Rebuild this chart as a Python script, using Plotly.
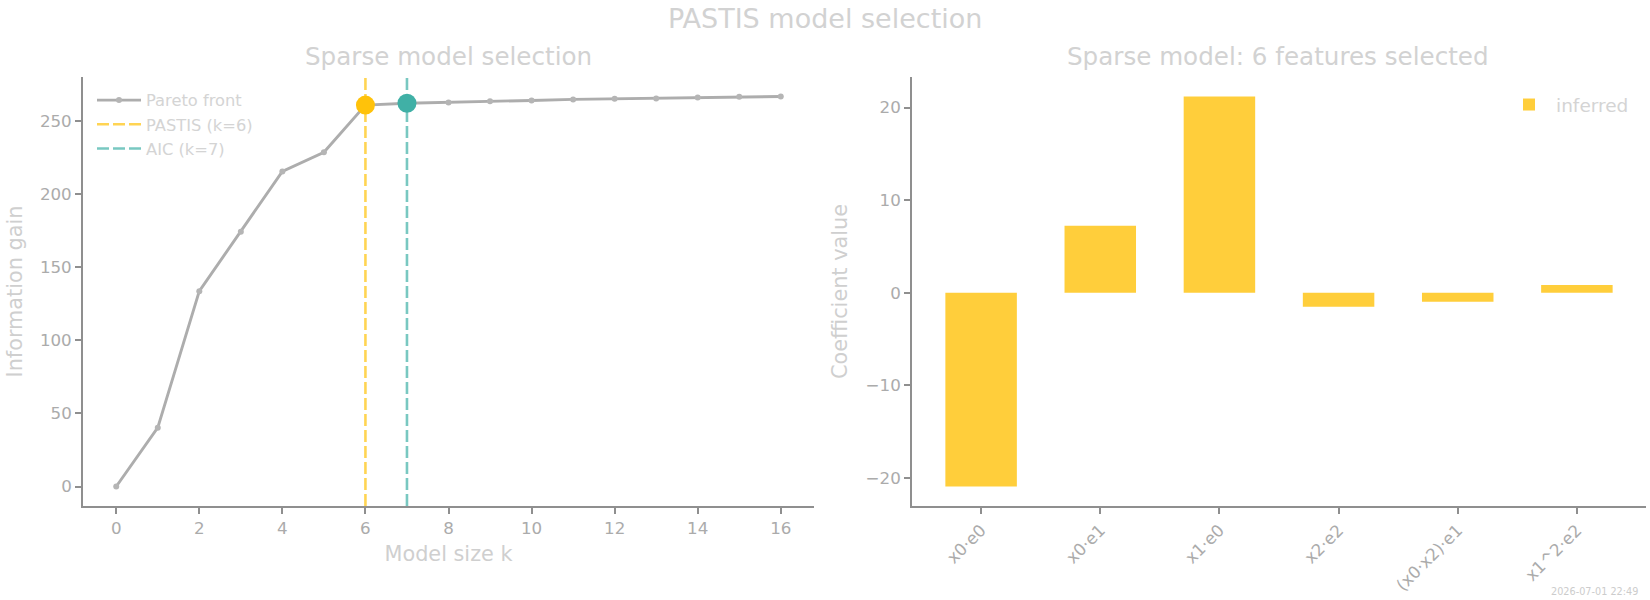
import plotly.graph_objects as go

# ---------------- data ----------------
model_size = list(range(17))
info_gain = [0.0, 40.3, 133.8, 174.4, 215.8, 228.9, 261.2, 262.5, 263.0,
             263.9, 264.4, 265.1, 265.5, 265.8, 266.4, 267.0, 267.1]
k_pastis = 6
k_aic = 7

features = ["x0·e0", "x0·e1", "x1·e0", "x2·e2", "(x0·x2)·e1", "x1^2·e2"]
coefs = [-20.93, 7.23, 21.2, -1.5, -0.97, 0.83]

# ---------------- style ----------------
W, H = 1650, 600
FONT = "DejaVu Sans"
TICK_C = "#ababab"
LABEL_C = "#cfcfcf"
TITLE_C = "#d2d2d2"
SPINE_C = "#8f8f8f"
YELLOW = "#FFC20A"
TEAL = "#40B0A6"


def px_x(x):
    return x / W


def px_y(y):
    return 1 - y / H


def padded(lo, hi, frac=0.05):
    d = (hi - lo) * frac
    return [lo - d, hi + d]


fig = go.Figure()

# Pareto front
fig.add_trace(go.Scatter(
    x=model_size, y=info_gain, mode="lines+markers", name="Pareto front",
    line=dict(color="#adadad", width=2.9),
    marker=dict(color="#b5b5b5", size=6),
    xaxis="x", yaxis="y", legend="legend", legendrank=1,
))

# highlighted points
fig.add_trace(go.Scatter(
    x=[k_pastis], y=[info_gain[k_pastis]], mode="markers", showlegend=False,
    marker=dict(color=YELLOW, size=19), xaxis="x", yaxis="y",
))
fig.add_trace(go.Scatter(
    x=[k_aic], y=[info_gain[k_aic]], mode="markers", showlegend=False,
    marker=dict(color=TEAL, size=19), xaxis="x", yaxis="y",
))

# vertical reference lines (with legend entries)
fig.add_shape(type="line", xref="x", yref="y domain", x0=k_pastis, x1=k_pastis,
              y0=0, y1=1, line=dict(color="rgba(255,194,10,0.7)", width=2.6, dash="12px,4px"),
              showlegend=True, name=f"PASTIS (k={k_pastis})", legend="legend",
              legendrank=2, layer="below")
fig.add_shape(type="line", xref="x", yref="y domain", x0=k_aic, x1=k_aic,
              y0=0, y1=1, line=dict(color="rgba(64,176,166,0.7)", width=2.6, dash="12px,4px"),
              showlegend=True, name=f"AIC (k={k_aic})", legend="legend",
              legendrank=3, layer="below")

# coefficients
fig.add_trace(go.Bar(
    x=list(range(len(features))), y=coefs, name="inferred", width=0.6,
    marker=dict(color="rgba(255,194,10,0.8)", line=dict(width=0)),
    xaxis="x2", yaxis="y2", legend="legend2",
))

axis_common = dict(
    showline=True, linecolor=SPINE_C, linewidth=1.8, mirror=False,
    showgrid=False, zeroline=False,
    ticks="outside", ticklen=6, tickwidth=1.6, tickcolor=SPINE_C,
    tickfont=dict(family=FONT, size=16.7, color=TICK_C),
)

y_top, y_bot = 77, 506
dom_y = [px_y(y_bot), px_y(y_top)]

fig.update_layout(
    width=W, height=H,
    margin=dict(l=0, r=0, t=0, b=0),
    paper_bgcolor="white", plot_bgcolor="white",
    font=dict(family=FONT, color=LABEL_C),
    xaxis=dict(domain=[px_x(83), px_x(814)], anchor="y",
               range=padded(min(model_size), max(model_size)),
               tick0=0, dtick=2,
               title=dict(text="Model size k", font=dict(size=20.8, color=LABEL_C), standoff=9),
               **axis_common),
    yaxis=dict(domain=dom_y, anchor="x",
               range=padded(min(info_gain), max(info_gain)),
               tick0=0, dtick=50,
               title=dict(text="Information gain", font=dict(size=20.8, color=LABEL_C), standoff=12),
               **axis_common),
    xaxis2=dict(domain=[px_x(912), px_x(1646)], anchor="y2",
                range=padded(-0.3, len(features) - 1 + 0.3),
                tickmode="array", tickvals=list(range(len(features))), ticktext=features,
                tickangle=-45,
                **axis_common),
    yaxis2=dict(domain=dom_y, anchor="x2",
                range=padded(min(coefs), max(coefs)),
                tick0=0, dtick=10,
                title=dict(text="Coefficient value", font=dict(size=20.8, color=LABEL_C), standoff=12),
                **axis_common),
    legend=dict(x=px_x(92), y=px_y(83), xanchor="left", yanchor="top", itemwidth=44,
                bgcolor="rgba(0,0,0,0)", font=dict(family=FONT, size=16.3, color="#d4d4d4"),
                tracegroupgap=0),
    legend2=dict(x=px_x(1634), y=px_y(86), xanchor="right", yanchor="top", itemwidth=44,
                 bgcolor="rgba(0,0,0,0)", font=dict(family=FONT, size=18.5, color="#d4d4d4")),
    annotations=[
        dict(text="PASTIS model selection", x=px_x(825), y=px_y(18), xref="paper", yref="paper",
             xanchor="center", yanchor="middle", showarrow=False,
             font=dict(family=FONT, size=27, color=TITLE_C)),
        dict(text="Sparse model selection", x=px_x(448.5), y=px_y(56), xref="paper", yref="paper",
             xanchor="center", yanchor="middle", showarrow=False,
             font=dict(family=FONT, size=24.6, color=TITLE_C)),
        dict(text=f"Sparse model: {len(features)} features selected", x=px_x(1278), y=px_y(56),
             xref="paper", yref="paper", xanchor="center", yanchor="middle", showarrow=False,
             font=dict(family=FONT, size=24.6, color=TITLE_C)),
        dict(text="2026-07-01 22:49", x=px_x(1640), y=px_y(591), xref="paper", yref="paper",
             xanchor="right", yanchor="middle", showarrow=False,
             font=dict(family=FONT, size=9.7, color="#cccccc")),
    ],
)

fig.write_html("out.html")
